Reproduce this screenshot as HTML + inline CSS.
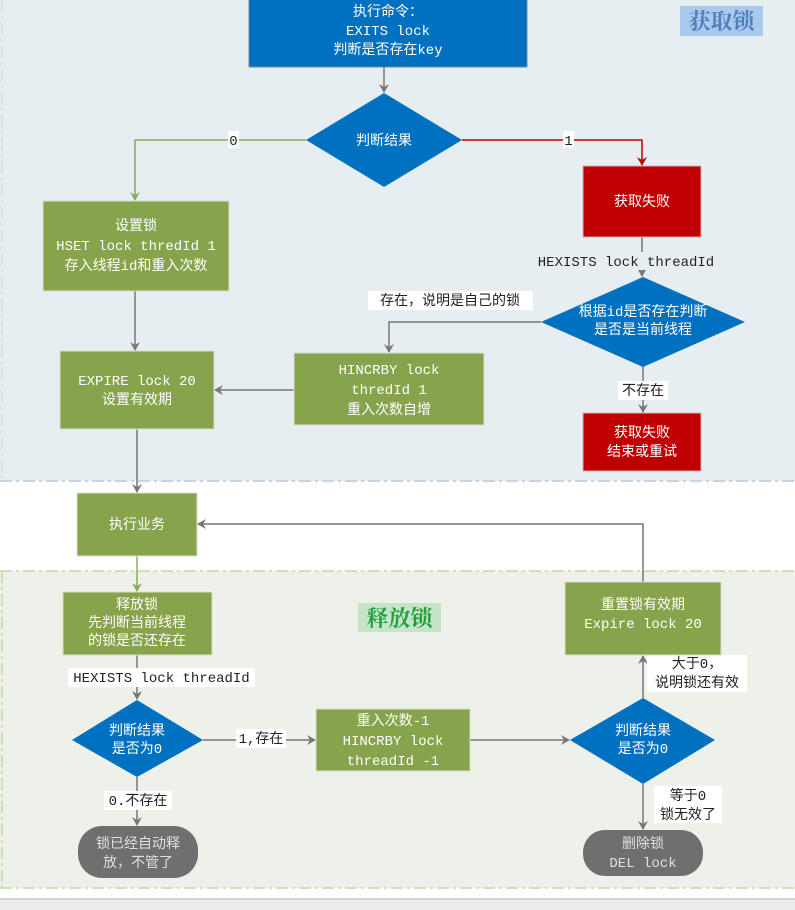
<!DOCTYPE html>
<html><head><meta charset="utf-8"><style>
html,body{margin:0;padding:0;width:795px;height:910px;overflow:hidden;background:#fff}
svg text{font-family:"Liberation Mono","Noto Sans CJK SC",monospace;font-size:14px}
.w{fill:#fff}
.k{fill:#222}
</style></head><body>
<svg width="795" height="910" viewBox="0 0 795 910" xmlns="http://www.w3.org/2000/svg">
<defs>
<marker id="ag" markerWidth="10" markerHeight="10" refX="8" refY="5" orient="auto" markerUnits="userSpaceOnUse"><path d="M0,0 L9,5 L0,10 L3,5z" fill="#777"/></marker>
<marker id="agr" markerWidth="10" markerHeight="10" refX="8" refY="5" orient="auto" markerUnits="userSpaceOnUse"><path d="M0,0 L9,5 L0,10 L3,5z" fill="#8aab5a"/></marker>
<marker id="ar" markerWidth="10" markerHeight="10" refX="8" refY="5" orient="auto" markerUnits="userSpaceOnUse"><path d="M0,0 L9,5 L0,10 L3,5z" fill="#c00000"/></marker>
</defs>
<!-- regions -->
<rect x="0" y="0" width="795" height="481" fill="#e7eef2"/>
<line x1="0" y1="481" x2="795" y2="481" stroke="#c9d4e2" stroke-width="2" stroke-dasharray="12,4,3,4"/>
<line x1="2" y1="0" x2="2" y2="481" stroke="#c9d4e2" stroke-width="1" stroke-dasharray="12,4,3,4"/>
<rect x="0" y="571" width="795" height="317" fill="#eef0ea"/>
<line x1="0" y1="571" x2="795" y2="571" stroke="#c4d9a8" stroke-width="1.5" stroke-dasharray="12,4,3,4"/>
<line x1="0" y1="888" x2="795" y2="888" stroke="#c4d9a8" stroke-width="1.5" stroke-dasharray="12,4,3,4"/>
<line x1="2" y1="571" x2="2" y2="888" stroke="#c4d9a8" stroke-width="1.5" stroke-dasharray="12,4,3,4"/>
<rect x="0" y="899" width="795" height="11" fill="#ececec"/>
<line x1="0" y1="899" x2="795" y2="899" stroke="#c8c8c8" stroke-width="1.5"/>

<!-- titles -->
<rect x="680" y="6" width="83" height="30" fill="#a9c9ee"/>
<text x="721.5" y="29" text-anchor="middle" style="font-family:'Noto Serif CJK SC',serif;font-size:22px;font-weight:bold" fill="#4f7fb8">获取锁</text>
<rect x="358" y="603" width="83" height="29" fill="#c6e4c8"/>
<text x="399.5" y="626" text-anchor="middle" style="font-family:'Noto Serif CJK SC',serif;font-size:22px;font-weight:bold" fill="#22a040">释放锁</text>

<!-- connectors -->
<line x1="384" y1="67" x2="384" y2="92" stroke="#777" stroke-width="1.5" marker-end="url(#ag)"/>
<polyline points="306,140 135,140 135,200" fill="none" stroke="#8aab5a" stroke-width="1.5" marker-end="url(#agr)"/>
<rect x="228" y="131" width="11" height="17" fill="#fff"/><text x="233.5" y="145" text-anchor="middle" class="k">0</text>
<polyline points="462,140 642,140 642,165" fill="none" stroke="#c00000" stroke-width="1.5" marker-end="url(#ar)"/>
<rect x="563" y="131" width="11" height="17" fill="#fff"/><text x="568.5" y="145" text-anchor="middle" class="k">1</text>
<line x1="642" y1="237" x2="642" y2="276" stroke="#777" stroke-width="1.5" marker-end="url(#ag)"/>
<rect x="533" y="252" width="186" height="18" fill="#e7eef2"/>
<text x="626" y="266" text-anchor="middle" class="k">HEXISTS lock threadId</text>
<polyline points="541,322 389,322 389,352" fill="none" stroke="#777" stroke-width="1.5" marker-end="url(#ag)"/>
<rect x="368" y="291" width="165" height="19" fill="#fff"/>
<text x="450" y="305" text-anchor="middle" class="k">存在，说明是自己的锁</text>
<line x1="643" y1="366" x2="643" y2="412" stroke="#777" stroke-width="1.5" marker-end="url(#ag)"/>
<rect x="618" y="381" width="50" height="19" fill="#fff"/>
<text x="643" y="395" text-anchor="middle" class="k">不存在</text>
<line x1="135" y1="291" x2="135" y2="350" stroke="#777" stroke-width="1.5" marker-end="url(#ag)"/>
<line x1="294" y1="390" x2="215" y2="390" stroke="#777" stroke-width="1.5" marker-end="url(#ag)"/>
<line x1="137" y1="429" x2="137" y2="492" stroke="#777" stroke-width="1.5" marker-end="url(#ag)"/>
<polyline points="643,582 643,524 198,524" fill="none" stroke="#777" stroke-width="1.5" marker-end="url(#ag)"/>
<line x1="137" y1="556" x2="137" y2="591" stroke="#8aab5a" stroke-width="1.5" marker-end="url(#agr)"/>
<line x1="137" y1="655" x2="137" y2="699" stroke="#777" stroke-width="1.5" marker-end="url(#ag)"/>
<rect x="68" y="668" width="187" height="19" fill="#fff"/>
<text x="161.5" y="682" text-anchor="middle" class="k">HEXISTS lock threadId</text>
<line x1="203" y1="740" x2="315" y2="740" stroke="#777" stroke-width="1.5" marker-end="url(#ag)"/>
<rect x="236" y="729" width="50" height="19" fill="#fff"/>
<text x="261" y="743" text-anchor="middle" class="k">1,存在</text>
<line x1="470" y1="740" x2="569" y2="740" stroke="#777" stroke-width="1.5" marker-end="url(#ag)"/>
<line x1="137" y1="777" x2="137" y2="825" stroke="#777" stroke-width="1.5" marker-end="url(#ag)"/>
<rect x="104" y="791" width="68" height="19" fill="#fff"/>
<text x="138" y="805" text-anchor="middle" class="k">0.不存在</text>
<line x1="643" y1="698" x2="643" y2="656" stroke="#777" stroke-width="1.5" marker-end="url(#ag)"/>
<rect x="647" y="655" width="100" height="37" fill="#fff"/>
<text x="697" y="668" text-anchor="middle" class="k">大于0，</text>
<text x="697" y="687" text-anchor="middle" class="k">说明锁还有效</text>
<line x1="643" y1="784" x2="643" y2="829" stroke="#777" stroke-width="1.5" marker-end="url(#ag)"/>
<rect x="654" y="786" width="68" height="37" fill="#fff"/>
<text x="688" y="800" text-anchor="middle" class="k">等于0</text>
<text x="688" y="819" text-anchor="middle" class="k">锁无效了</text>

<!-- nodes -->
<rect x="249" y="-2" width="278" height="69" fill="#0070c0" stroke="#7a8a99" stroke-width="1"/>
<text x="388" y="16" text-anchor="middle" class="w">执行命令：</text>
<text x="388" y="35" text-anchor="middle" class="w">EXITS lock</text>
<text x="388" y="54" text-anchor="middle" class="w">判断是否存在key</text>

<polygon points="384,93 462,140 384,187 306,140" fill="#0070c0"/>
<text x="384" y="145" text-anchor="middle" class="w">判断结果</text>

<rect x="43" y="201" width="186" height="90" fill="#87a34b" stroke="#d8e0cc"/>
<text x="136" y="230" text-anchor="middle" class="w">设置锁</text>
<text x="136" y="250" text-anchor="middle" class="w">HSET lock thredId 1</text>
<text x="136" y="270" text-anchor="middle" class="w">存入线程id和重入次数</text>

<rect x="583" y="166" width="118" height="71" fill="#c00000" stroke="#d8b0b0"/>
<text x="642" y="206" text-anchor="middle" class="w">获取失败</text>

<polygon points="643,277 745,322 643,367 541,322" fill="#0070c0"/>
<text x="643" y="316" text-anchor="middle" class="w">根据id是否存在判断</text>
<text x="643" y="334" text-anchor="middle" class="w">是否是当前线程</text>

<rect x="294" y="353" width="190" height="72" fill="#87a34b" stroke="#d8e0cc"/>
<text x="389" y="374" text-anchor="middle" class="w">HINCRBY lock</text>
<text x="389" y="394" text-anchor="middle" class="w">thredId 1</text>
<text x="389" y="414" text-anchor="middle" class="w">重入次数自增</text>

<rect x="60" y="351" width="154" height="78" fill="#87a34b" stroke="#d8e0cc"/>
<text x="137" y="385" text-anchor="middle" class="w">EXPIRE lock 20</text>
<text x="137" y="404" text-anchor="middle" class="w">设置有效期</text>

<rect x="583" y="413" width="118" height="58" fill="#c00000" stroke="#d8b0b0"/>
<text x="642" y="437" text-anchor="middle" class="w">获取失败</text>
<text x="642" y="456" text-anchor="middle" class="w">结束或重试</text>

<rect x="77" y="493" width="120" height="63" fill="#87a34b" stroke="#d8e0cc"/>
<text x="137" y="529" text-anchor="middle" class="w">执行业务</text>

<rect x="63" y="592" width="149" height="63" fill="#87a34b" stroke="#d8e0cc"/>
<text x="137" y="609" text-anchor="middle" class="w">释放锁</text>
<text x="137" y="627" text-anchor="middle" class="w">先判断当前线程</text>
<text x="137" y="645" text-anchor="middle" class="w">的锁是否还存在</text>

<rect x="565" y="582" width="156" height="73" fill="#87a34b" stroke="#d8e0cc"/>
<text x="643" y="609" text-anchor="middle" class="w">重置锁有效期</text>
<text x="643" y="628" text-anchor="middle" class="w">Expire lock 20</text>

<polygon points="137,700 203,740 137,777 72,740" fill="#0070c0"/>
<text x="137" y="735" text-anchor="middle" class="w">判断结果</text>
<text x="137" y="753" text-anchor="middle" class="w">是否为0</text>

<rect x="316" y="709" width="154" height="62" fill="#87a34b" stroke="#d8e0cc"/>
<text x="393" y="725" text-anchor="middle" class="w">重入次数-1</text>
<text x="393" y="745" text-anchor="middle" class="w">HINCRBY lock</text>
<text x="393" y="765" text-anchor="middle" class="w">threadId -1</text>

<polygon points="643,698 715,740 643,784 570,740" fill="#0070c0"/>
<text x="643" y="735" text-anchor="middle" class="w">判断结果</text>
<text x="643" y="753" text-anchor="middle" class="w">是否为0</text>

<rect x="78" y="826" width="120" height="52" rx="24" fill="#6f6f6f"/>
<text x="138" y="848" text-anchor="middle" fill="#e0e0e0">锁已经自动释</text>
<text x="138" y="867" text-anchor="middle" fill="#e0e0e0">放，不管了</text>

<rect x="583" y="830" width="120" height="46" rx="22" fill="#6f6f6f"/>
<text x="643" y="848" text-anchor="middle" fill="#e0e0e0">删除锁</text>
<text x="643" y="867" text-anchor="middle" fill="#e0e0e0">DEL lock</text>
</svg>
</body></html>
